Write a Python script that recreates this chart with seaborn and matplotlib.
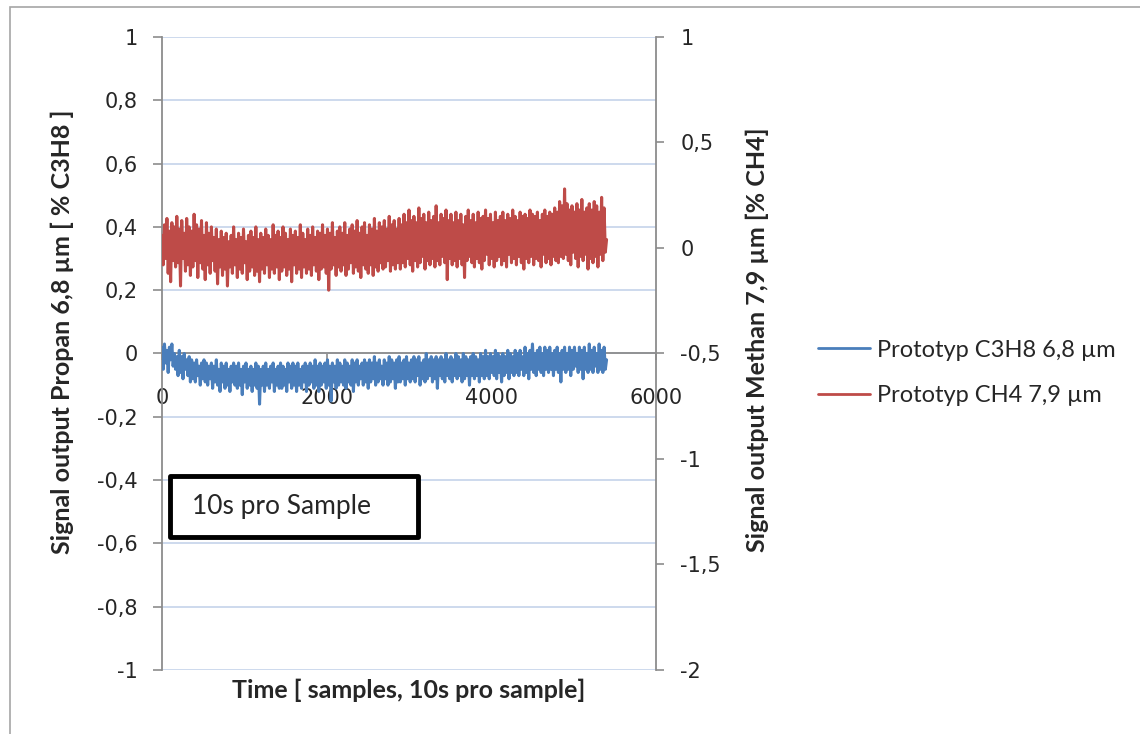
import numpy as np
import matplotlib
matplotlib.use("Agg")
import matplotlib.pyplot as plt
import seaborn as sns
from matplotlib.patches import Rectangle
from matplotlib.lines import Line2D
from matplotlib.ticker import FuncFormatter

# --- data (one point every 15 samples) ---
samples = np.arange(0, 5401, 15)

# Propan signal, left axis [% C3H8]
propan = [
    0.02, -0.05, 0.03, -0.03, 0.01, -0.06, 0.02, -0.02, 0.03, -0.04, 0.00, -0.05,
    -0.01, -0.07, 0.01, -0.06, -0.01, -0.08, 0.00, -0.05, -0.02, -0.07, -0.01, -0.09,
    -0.02, -0.08, -0.03, -0.09, -0.02, -0.07, -0.04, -0.10, -0.03, -0.08, -0.02, -0.09,
    -0.03, -0.10, -0.04, -0.08, -0.03, -0.11, -0.04, -0.09, -0.02, -0.10, -0.05, -0.12,
    -0.03, -0.09, -0.04, -0.11, -0.03, -0.10, -0.05, -0.12, -0.04, -0.09, -0.03, -0.10,
    -0.04, -0.11, -0.03, -0.10, -0.05, -0.13, -0.04, -0.09, -0.03, -0.11, -0.05, -0.10,
    -0.04, -0.12, -0.05, -0.10, -0.03, -0.11, -0.04, -0.16, -0.05, -0.10, -0.04, -0.12,
    -0.03, -0.10, -0.05, -0.11, -0.04, -0.09, -0.03, -0.12, -0.05, -0.10, -0.04, -0.11,
    -0.03, -0.11, -0.04, -0.10, -0.05, -0.12, -0.03, -0.09, -0.04, -0.11, -0.03, -0.10,
    -0.04, -0.12, -0.03, -0.10, -0.05, -0.11, -0.04, -0.09, -0.03, -0.12, -0.04, -0.10,
    -0.03, -0.09, -0.04, -0.11, -0.02, -0.10, -0.04, -0.12, -0.03, -0.10, -0.04, -0.09,
    -0.03, -0.11, -0.02, -0.10, -0.04, -0.15, -0.03, -0.09, -0.04, -0.11, -0.02, -0.10,
    -0.03, -0.09, -0.04, -0.10, -0.02, -0.11, -0.03, -0.09, -0.04, -0.10, -0.02, -0.12,
    -0.03, -0.09, -0.02, -0.10, -0.04, -0.08, -0.03, -0.10, -0.02, -0.09, -0.03, -0.11,
    -0.02, -0.09, -0.03, -0.08, -0.01, -0.10, -0.03, -0.09, -0.02, -0.08, -0.04, -0.10,
    -0.02, -0.08, -0.03, -0.10, -0.01, -0.09, -0.02, -0.08, -0.03, -0.11, -0.02, -0.09,
    -0.01, -0.09, -0.03, -0.08, -0.02, -0.10, -0.01, -0.08, -0.03, -0.09, -0.02, -0.08,
    -0.01, -0.09, -0.02, -0.07, -0.01, -0.10, -0.03, -0.08, -0.02, -0.09, 0.00, -0.08,
    -0.02, -0.07, -0.01, -0.09, -0.02, -0.08, -0.01, -0.11, -0.02, -0.07, -0.01, -0.08,
    -0.02, -0.09, 0.00, -0.07, -0.02, -0.08, -0.01, -0.09, -0.02, -0.07, 0.00, -0.08,
    -0.01, -0.07, -0.02, -0.09, 0.00, -0.08, -0.01, -0.07, -0.02, -0.10, -0.01, -0.07,
    0.00, -0.08, -0.01, -0.07, -0.02, -0.09, 0.00, -0.07, -0.01, -0.08, 0.01, -0.07,
    -0.01, -0.08, 0.00, -0.06, -0.01, -0.07, 0.01, -0.08, 0.00, -0.06, -0.01, -0.09,
    0.00, -0.07, -0.01, -0.06, 0.01, -0.08, 0.00, -0.06, -0.01, -0.07, 0.01, -0.06,
    0.00, -0.07, 0.01, -0.05, -0.01, -0.07, 0.02, -0.06, 0.00, -0.08, 0.01, -0.05,
    0.03, -0.06, 0.00, -0.07, 0.01, -0.05, 0.02, -0.06, 0.00, -0.07, 0.02, -0.05,
    0.01, -0.06, 0.02, -0.05, 0.00, -0.07, 0.01, -0.05, 0.02, -0.06, 0.00, -0.09,
    0.01, -0.05, 0.02, -0.06, 0.00, -0.05, 0.02, -0.07, 0.01, -0.05, 0.02, -0.04,
    0.00, -0.06, 0.02, -0.05, 0.01, -0.08, 0.02, -0.05, 0.00, -0.06, 0.03, -0.05,
    0.01, -0.06, 0.02, -0.04, 0.00, -0.06, 0.03, -0.05, 0.01, -0.06, 0.02, -0.05,
    -0.02,
]

# Methan signal, right axis [% CH4]
methan = [
    0.06, -0.08, 0.11, -0.05, 0.14, -0.12, 0.08, -0.16, 0.12, -0.06, 0.10, -0.09,
    0.15, -0.07, 0.09, -0.18, 0.13, -0.05, 0.07, -0.11, 0.14, -0.08, 0.10, -0.13,
    0.08, -0.09, 0.16, -0.06, 0.11, -0.14, 0.09, -0.07, 0.13, -0.10, 0.06, -0.15,
    0.12, -0.08, 0.07, -0.12, 0.10, -0.06, 0.05, -0.11, 0.09, -0.17, 0.04, -0.09,
    0.08, -0.13, 0.05, -0.10, 0.07, -0.18, 0.03, -0.09, 0.06, -0.12, 0.10, -0.08,
    0.04, -0.14, 0.07, -0.10, 0.05, -0.12, 0.09, -0.07, 0.03, -0.15, 0.06, -0.11,
    0.08, -0.09, 0.05, -0.13, 0.10, -0.11, 0.04, -0.16, 0.07, -0.10, 0.05, -0.12,
    0.09, -0.08, 0.06, -0.14, 0.04, -0.10, 0.11, -0.12, 0.06, -0.09, 0.08, -0.15,
    0.05, -0.11, 0.10, -0.09, 0.07, -0.13, 0.04, -0.10, 0.09, -0.16, 0.06, -0.08,
    0.08, -0.12, 0.05, -0.10, 0.11, -0.14, 0.07, -0.09, 0.04, -0.12, 0.09, -0.10,
    0.06, -0.13, 0.10, -0.08, 0.05, -0.11, 0.08, -0.15, 0.07, -0.10, 0.11, -0.09,
    0.06, -0.12, 0.09, -0.20, 0.07, -0.10, 0.12, -0.08, 0.05, -0.13, 0.08, -0.09,
    0.10, -0.11, 0.07, -0.08, 0.12, -0.13, 0.06, -0.10, 0.09, -0.07, 0.11, -0.12,
    0.08, -0.09, 0.13, -0.11, 0.07, -0.14, 0.10, -0.08, 0.12, -0.10, 0.06, -0.12,
    0.11, -0.08, 0.09, -0.13, 0.14, -0.09, 0.08, -0.11, 0.12, -0.07, 0.10, -0.10,
    0.13, -0.09, 0.09, -0.06, 0.15, -0.11, 0.11, -0.08, 0.13, -0.10, 0.09, -0.07,
    0.14, -0.10, 0.11, -0.07, 0.16, -0.09, 0.12, -0.05, 0.18, -0.08, 0.13, -0.11,
    0.15, -0.06, 0.12, -0.09, 0.19, -0.07, 0.14, -0.04, 0.16, -0.10, 0.12, -0.06,
    0.17, -0.08, 0.13, -0.05, 0.15, -0.09, 0.20, -0.06, 0.12, -0.08, 0.16, -0.04,
    0.14, -0.07, 0.18, -0.15, 0.13, -0.05, 0.16, -0.08, 0.12, -0.06, 0.17, -0.09,
    0.13, -0.05, 0.16, -0.08, 0.11, -0.14, 0.15, -0.06, 0.18, -0.04, 0.13, -0.07,
    0.16, -0.09, 0.12, -0.05, 0.17, -0.07, 0.14, -0.10, 0.15, -0.06, 0.18, -0.03,
    0.14, -0.08, 0.16, -0.05, 0.12, -0.09, 0.17, -0.06, 0.13, -0.04, 0.15, -0.08,
    0.17, -0.06, 0.13, -0.09, 0.16, -0.03, 0.14, -0.07, 0.18, -0.05, 0.15, -0.08,
    0.13, -0.04, 0.17, -0.07, 0.15, -0.10, 0.16, -0.05, 0.14, -0.07, 0.18, -0.04,
    0.16, -0.08, 0.15, -0.05, 0.17, -0.06, 0.13, -0.09, 0.16, -0.03, 0.18, -0.07,
    0.15, -0.05, 0.17, -0.08, 0.16, -0.04, 0.19, -0.06, 0.17, -0.07, 0.22, -0.04,
    0.20, -0.05, 0.28, -0.03, 0.21, -0.06, 0.18, -0.08, 0.20, -0.02, 0.17, -0.05,
    0.21, -0.09, 0.18, -0.04, 0.23, -0.06, 0.17, -0.03, 0.19, -0.10, 0.21, -0.05,
    0.18, -0.07, 0.22, -0.04, 0.20, -0.09, 0.17, -0.03, 0.24, -0.06, 0.19, -0.02,
    0.04,
]

left_ticks = [-1, -0.8, -0.6, -0.4, -0.2, 0, 0.2, 0.4, 0.6, 0.8, 1]
right_ticks = [-2, -1.5, -1, -0.5, 0, 0.5, 1]
x_ticks = [0, 2000, 4000, 6000]

label_propan = "Prototyp C3H8 6,8 µm"
label_methan = "Prototyp CH4 7,9 µm"

BLUE = "#4A7EBB"
RED = "#BE4B48"
AXIS_GRAY = "#8C8C8C"
GRID = "#C9D7EC"
LABEL_FONT = ["Lato", "DejaVu Sans"]


def comma_fmt(v, pos):
    return f"{v:g}".replace(".", ",")


def main():
    sns.set_style("white")
    plt.rcParams["font.family"] = ["DejaVu Sans"]

    fig = plt.figure(figsize=(11.4, 7.34), dpi=100)
    ax = fig.add_axes([0.1421, 0.0872, 0.4333, 0.8624])
    ax2 = ax.twinx()

    # blue sits above the x axis line, like in the original
    sns.lineplot(x=samples, y=propan, ax=ax, color=BLUE, linewidth=2.2, legend=False,
                 zorder=3)
    sns.lineplot(x=samples, y=methan, ax=ax2, color=RED, linewidth=2.2, legend=False)

    ax.set_xlim(0, 6000)
    ax.set_ylim(-1, 1)
    ax2.set_ylim(-2, 1)
    ax.set_xticks(x_ticks)
    ax.set_yticks(left_ticks)
    ax2.set_yticks(right_ticks)
    ax.yaxis.set_major_formatter(FuncFormatter(comma_fmt))
    ax2.yaxis.set_major_formatter(FuncFormatter(comma_fmt))

    # gridlines
    ax.set_axisbelow(True)
    ax.yaxis.grid(True, color=GRID, linewidth=1.3)
    ax.xaxis.grid(False)

    # spines
    for s in ["top", "right"]:
        ax.spines[s].set_visible(False)
    ax.spines["bottom"].set_position(("data", 0))
    for s in ["bottom", "left"]:
        ax.spines[s].set_color(AXIS_GRAY)
        ax.spines[s].set_linewidth(1.3)
    for s in ["top", "left", "bottom"]:
        ax2.spines[s].set_visible(False)
    ax2.spines["right"].set_color(AXIS_GRAY)
    ax2.spines["right"].set_linewidth(1.3)

    ax.tick_params(axis="y", direction="out", length=6.5, width=1.2, color=AXIS_GRAY,
                   labelsize=15, pad=11, left=True)
    ax.tick_params(axis="x", direction="out", length=5, width=1.2, color=AXIS_GRAY,
                   labelsize=15, pad=20, bottom=True)
    ax2.tick_params(axis="y", direction="out", length=6, width=1.2, color=AXIS_GRAY,
                    labelsize=15, pad=11.5, right=True)
    ax.set_xlabel("")
    ax.set_ylabel("")
    ax2.set_ylabel("")

    # axis titles
    fig.text(62 / 1140, 1 - 332 / 734, "Signal output Propan 6,8 µm [ % C3H8 ]",
             rotation=90, ha="center", va="center", fontsize=18, fontweight="bold",
             family=LABEL_FONT)
    fig.text(757 / 1140, 1 - 340 / 734, "Signal output Methan 7,9 µm [% CH4]",
             rotation=90, ha="center", va="center", fontsize=18, fontweight="bold",
             family=LABEL_FONT)
    fig.text(409 / 1140, 1 - 690 / 734, "Time [ samples, 10s pro sample]",
             ha="center", va="center", fontsize=18, fontweight="bold",
             family=LABEL_FONT)

    # annotation box
    ax.add_patch(Rectangle((0.016, 0.210), 0.502, 0.0965, transform=ax.transAxes,
                           facecolor="white", edgecolor="black", linewidth=3.5,
                           joinstyle="round", zorder=5))
    ax.text(0.06, 0.258, "10s pro Sample", transform=ax.transAxes, ha="left",
            va="center", fontsize=19, family=LABEL_FONT, zorder=6)

    # legend
    handles = [Line2D([], [], color=BLUE, linewidth=2),
               Line2D([], [], color=RED, linewidth=2)]
    fig.legend(handles, [label_propan, label_methan], loc="center left",
               bbox_to_anchor=(818 / 1140, 1 - 373 / 734), frameon=False,
               prop={"family": LABEL_FONT, "size": 17},
               handlelength=2.2, handletextpad=0.3, labelspacing=1.05,
               borderpad=0, borderaxespad=0)

    # outer chart frame
    fig.add_artist(Rectangle((10 / 1140, -0.1), 1.2, 1.1 - 7 / 734,
                             transform=fig.transFigure, fill=False,
                             edgecolor="#A6A6A6", linewidth=1.2))

    fig.savefig("out.png", dpi=100)
    plt.close(fig)


if __name__ == "__main__":
    main()
